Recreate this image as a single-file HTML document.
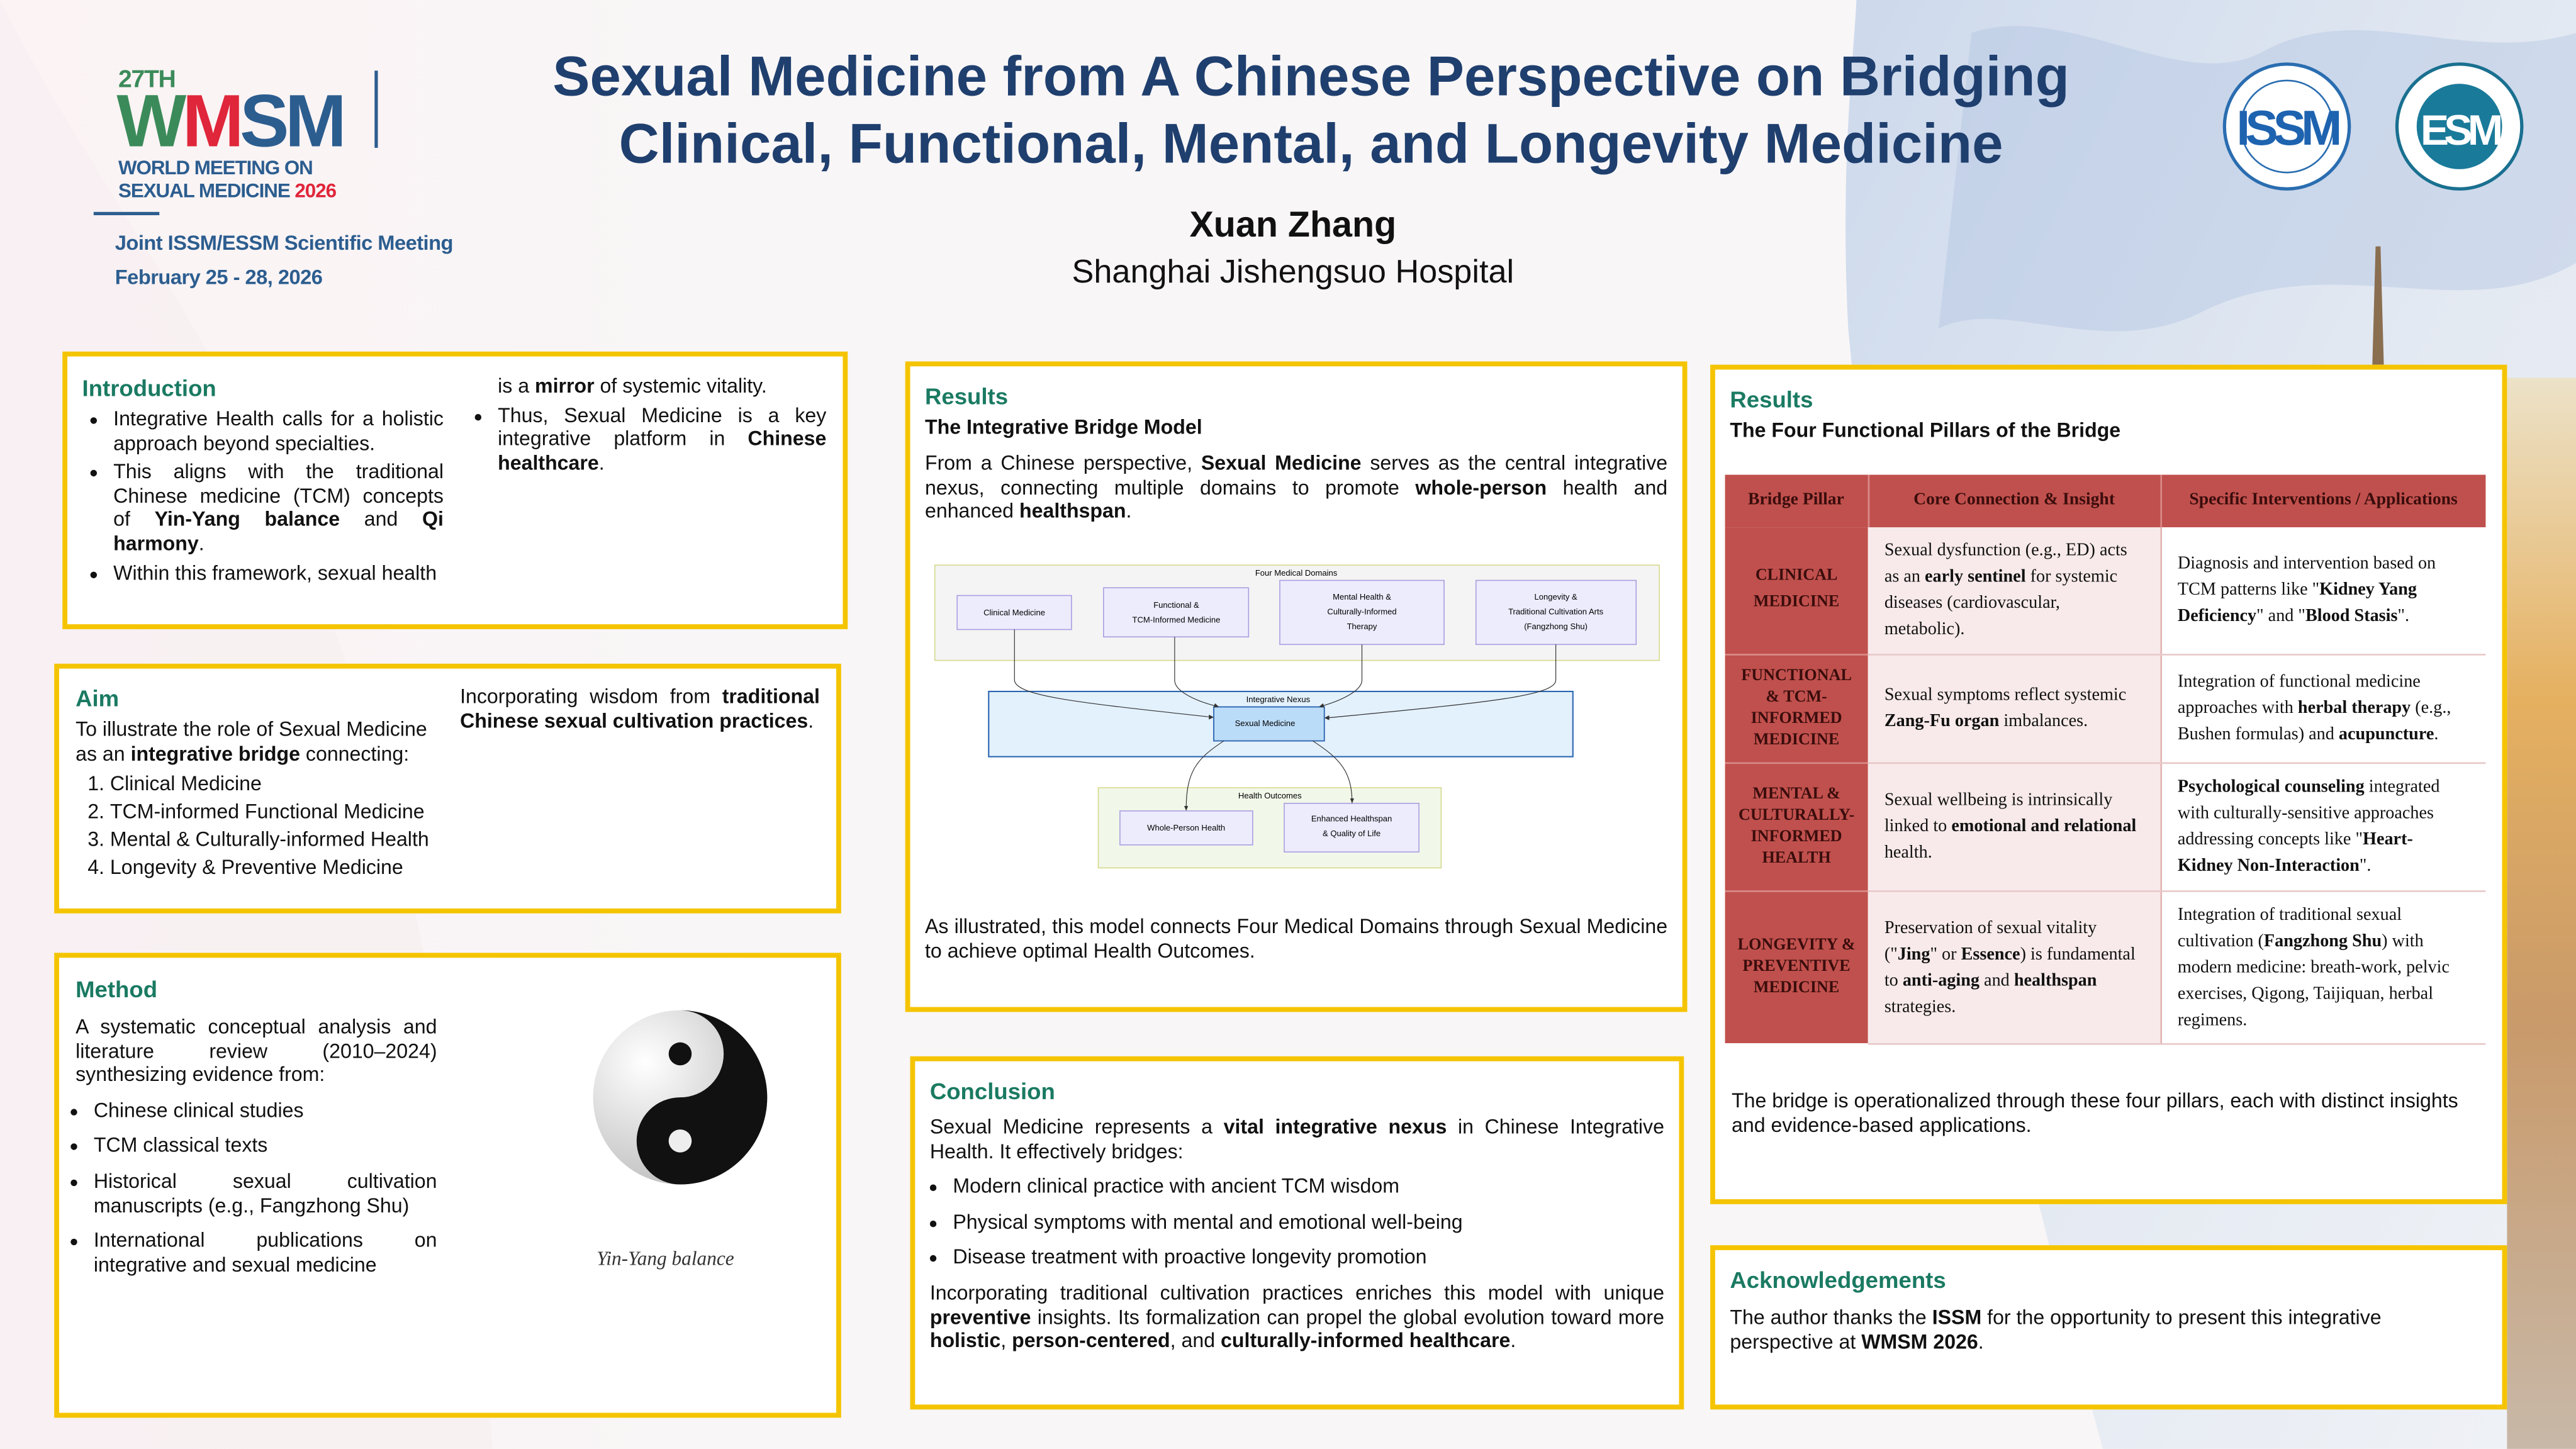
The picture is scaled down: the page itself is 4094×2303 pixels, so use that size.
<!DOCTYPE html>
<html><head><meta charset="utf-8">
<style>
html,body{margin:0;padding:0;width:4094px;height:2303px;overflow:hidden;background:#f8f6f7;}
#w{position:absolute;left:0;top:0;width:1568px;height:882px;transform:scale(2.6110);transform-origin:0 0;font-family:"Liberation Sans",Arial,sans-serif;color:#111;overflow:hidden;
background:linear-gradient(90deg,#fbf3f4 0%,#f8f6f7 30%,#f8f6f7 100%);}
.abs{position:absolute;}
.box{position:absolute;background:#fff;border:3px solid #f5c400;box-sizing:border-box;}
.h{position:absolute;color:#1a7a62;font-weight:bold;font-size:14px;}
.t{position:absolute;font-size:12.3px;line-height:14.6px;text-align:justify;}
.t p{margin:0;}
ul{margin:0;padding-left:20px;}
li{margin:0;}
ol{margin:0;padding-left:21px;}
table{border-collapse:collapse;font-family:"Liberation Serif",serif;font-size:10.8px;line-height:16px;}
td,th{box-sizing:border-box;}
th{font-size:10.6px;}
.pill{background:#c0504d;color:#3a0d0c;font-weight:bold;text-align:center;border-bottom:1px solid #d98a88;padding:0 3px;font-size:10px;}
.core{background:#f8eaea;padding:0 14px 0 10px;border-bottom:1px solid #e8c8c8;border-right:1px solid #e3b3b3;}
.app{background:#fff;padding:0 12px 0 10px;border-bottom:1px solid #e8c8c8;}
</style></head><body>
<div id="w">
<svg class="abs" style="left:0;top:0" width="1568" height="882">
<defs>
<linearGradient id="sky" x1="0" y1="0" x2="1" y2="1"><stop offset="0" stop-color="#cdd9ec"/><stop offset="0.5" stop-color="#e3e9f2"/><stop offset="1" stop-color="#f0f2f6"/></linearGradient>
<linearGradient id="city" x1="0" y1="0" x2="0" y2="1"><stop offset="0" stop-color="#ece2c8"/><stop offset="0.3" stop-color="#e5b060"/><stop offset="0.6" stop-color="#c99a6a"/><stop offset="1" stop-color="#c8b8a8"/></linearGradient>
</defs>
<path d="M1130 0 L1568 0 L1568 882 L1280 882 C1230 700 1200 560 1180 450 C1170 400 1160 420 1150 440 C1140 420 1135 300 1125 200 C1120 100 1128 40 1130 0 Z" fill="url(#sky)"/>
<path d="M1200 20 C1260 0 1330 60 1380 30 C1440 0 1500 40 1568 20 L1568 160 C1500 200 1420 150 1340 190 C1280 220 1220 180 1180 200 Z" fill="#b3c6e2" opacity="0.45"/>
<rect x="1526" y="230" width="42" height="652" fill="url(#city)"/>
<path d="M1446 150 L1449 150 L1451 222 L1444 222 Z" fill="#8a6e50"/>
<path d="M0 0 C100 200 250 300 300 882 L0 882 Z" fill="#f7eef0" opacity="0.6"/>
</svg>

<div class="abs" style="left:72px;top:40px;font-weight:bold;color:#3b8b5a;font-size:15px;letter-spacing:-0.5px;">27TH</div>
<div class="abs" style="left:71px;top:50px;font-weight:bold;font-size:45px;letter-spacing:-2.5px;line-height:48px;"><span style="color:#3b8b5a">W</span><span style="color:#e0263a">M</span><span style="color:#2c5d8f">SM</span></div>
<div class="abs" style="left:228px;top:43px;width:1.5px;height:47px;background:#2c5d8f"></div>
<div class="abs" style="left:72px;top:95px;font-weight:bold;color:#2c5d8f;font-size:12px;line-height:14px;letter-spacing:-0.4px;">WORLD MEETING ON<br>SEXUAL MEDICINE <span style="color:#e0263a">2026</span></div>
<div class="abs" style="left:57px;top:129px;width:40px;height:2px;background:#2c5d8f"></div>
<div class="abs" style="left:70px;top:141px;font-weight:bold;color:#2c5d8f;font-size:12.5px;letter-spacing:-0.2px;">Joint ISSM/ESSM Scientific Meeting</div>
<div class="abs" style="left:70px;top:162px;font-weight:bold;color:#2c5d8f;font-size:12.5px;letter-spacing:-0.2px;">February 25 - 28, 2026</div>

<div class="abs" style="left:300px;top:27px;width:996px;text-align:center;font-weight:bold;color:#1f3f6e;font-size:34px;line-height:41px;">Sexual Medicine from A Chinese Perspective on Bridging<br>Clinical, Functional, Mental, and Longevity Medicine</div>
<div class="abs" style="left:600px;top:124px;width:374px;text-align:center;font-weight:bold;font-size:22px;">Xuan Zhang</div>
<div class="abs" style="left:600px;top:155px;width:374px;text-align:center;font-size:20px;">Shanghai Jishengsuo Hospital</div>

<svg class="abs" style="left:1350px;top:36px" width="190" height="84">
<circle cx="42" cy="41" r="38" fill="#fff" stroke="#2a6db0" stroke-width="2"/>
<circle cx="42" cy="41" r="28" fill="none" stroke="#2a6db0" stroke-width="1"/>
<text x="42" y="52" text-anchor="middle" font-family="Liberation Sans" font-weight="bold" font-size="30" fill="#1e63b0" letter-spacing="-3">ISSM</text>
<circle cx="147" cy="41" r="38" fill="#fff" stroke="#1a7090" stroke-width="2"/>
<circle cx="147" cy="41" r="26" fill="#1a7a9a"/>
<text x="147" y="52" text-anchor="middle" font-family="Liberation Sans" font-weight="bold" font-size="26" fill="#fff" letter-spacing="-3">ESM</text>
</svg>

<div class="box" style="left:38px;top:214px;width:478px;height:169px;"></div>
<div class="h" style="left:50px;top:228px;">Introduction</div>
<div class="t" style="left:50px;top:248px;width:220px;"><ul style="padding-left:19px">
<li>Integrative Health calls for a holistic approach beyond specialties.</li>
<li style="margin-top:3px">This aligns with the traditional Chinese medicine (TCM) concepts of <b>Yin-Yang balance</b> and <b>Qi harmony</b>.</li>
<li style="margin-top:3px">Within this framework, sexual health</li></ul></div>
<div class="t" style="left:284px;top:228px;width:219px;"><p style="padding-left:19px">is a <b>mirror</b> of systemic vitality.</p>
<ul style="padding-left:19px;margin-top:3px"><li>Thus, Sexual Medicine is a key integrative platform in <b>Chinese healthcare</b>.</li></ul></div>

<div class="box" style="left:33px;top:404px;width:479px;height:152px;"></div>
<div class="h" style="left:46px;top:417px;">Aim</div>
<div class="t" style="left:46px;top:437px;width:220px;line-height:15.3px;text-align:left;">To illustrate the role of Sexual Medicine as an <b>integrative bridge</b> connecting:
<ol style="margin-top:2px"><li>Clinical Medicine</li><li style="margin-top:2px">TCM-informed Functional Medicine</li><li style="margin-top:2px">Mental &amp; Culturally-informed Health</li><li style="margin-top:2px">Longevity &amp; Preventive Medicine</li></ol></div>
<div class="t" style="left:280px;top:417px;width:219px;">Incorporating wisdom from <b>traditional Chinese sexual cultivation practices</b>.</div>

<div class="box" style="left:33px;top:580px;width:479px;height:283px;"></div>
<div class="h" style="left:46px;top:594px;">Method</div>
<div class="t" style="left:46px;top:618px;width:220px;">A systematic conceptual analysis and literature review (2010–2024) synthesizing evidence from:
<ul style="padding-left:11px;margin-top:7px"><li>Chinese clinical studies</li><li style="margin-top:7px">TCM classical texts</li><li style="margin-top:7px">Historical sexual cultivation manuscripts (e.g., Fangzhong Shu)</li><li style="margin-top:7px">International publications on integrative and sexual medicine</li></ul></div>
<svg class="abs" style="left:356px;top:610px" width="116" height="116" viewBox="-58 -58 116 116">
<defs><radialGradient id="yy" cx="0.3" cy="0.3" r="0.8"><stop offset="0" stop-color="#fff"/><stop offset="1" stop-color="#bbb"/></radialGradient></defs>
<circle r="53" fill="url(#yy)"/>
<path d="M0 -53 A53 53 0 0 1 0 53 A26.5 26.5 0 0 1 0 0 A26.5 26.5 0 0 0 0 -53 Z" fill="#111"/>
<circle cy="-26.5" r="7" fill="#111"/><circle cy="26.5" r="7" fill="#eee"/>
</svg>
<div class="abs" style="left:340px;top:759px;width:130px;text-align:center;font-family:'Liberation Serif',serif;font-style:italic;font-size:12px;color:#333;">Yin-Yang balance</div>

<div class="box" style="left:551px;top:220px;width:476px;height:396px;"></div>
<div class="h" style="left:563px;top:233px;">Results</div>
<div class="t" style="left:563px;top:253px;font-weight:bold;">The Integrative Bridge Model</div>
<div class="t" style="left:563px;top:275px;width:452px;">From a Chinese perspective, <b>Sexual Medicine</b> serves as the central integrative nexus, connecting multiple domains to promote <b>whole-person</b> health and enhanced <b>healthspan</b>.</div>
<svg class="abs" style="left:0;top:0;overflow:visible" width="1568" height="882" font-family="Liberation Sans" font-size="5" text-anchor="middle">
<rect x="569" y="344" width="441" height="58" fill="#f4f4f4" stroke="#d6d88a" stroke-width="0.6"/>
<text x="789" y="350.5">Four Medical Domains</text>
<g fill="#ececfd" stroke="#a99ce0" stroke-width="0.6">
<rect x="582.6" y="362.5" width="69.6" height="20.7"/>
<rect x="671.7" y="357.8" width="88.3" height="29.9"/>
<rect x="779" y="353.3" width="100" height="39"/>
<rect x="898.4" y="353.3" width="97.5" height="39"/>
</g>
<text x="617.4" y="374.5">Clinical Medicine</text>
<text x="716" y="370">Functional &amp;</text><text x="716" y="379">TCM-Informed Medicine</text>
<text x="829" y="365">Mental Health &amp;</text><text x="829" y="374">Culturally-Informed</text><text x="829" y="383">Therapy</text>
<text x="947" y="365">Longevity &amp;</text><text x="947" y="374">Traditional Cultivation Arts</text><text x="947" y="383">(Fangzhong Shu)</text>
<rect x="601.8" y="420.9" width="355.6" height="39.7" fill="#e3f1fd" stroke="#2a64b0" stroke-width="0.8"/>
<text x="778" y="427.5">Integrative Nexus</text>
<rect x="738.8" y="430.3" width="67.3" height="20.7" fill="#bbdcf8" stroke="#2a64b0" stroke-width="0.7"/>
<text x="770" y="442">Sexual Medicine</text>
<rect x="668.5" y="479.5" width="208.7" height="48.8" fill="#f1f7e9" stroke="#d6d88a" stroke-width="0.6"/>
<text x="773" y="486">Health Outcomes</text>
<g fill="#ececfd" stroke="#a99ce0" stroke-width="0.6">
<rect x="681.7" y="493.6" width="80.8" height="20.7"/>
<rect x="781.7" y="489" width="82" height="29.6"/>
</g>
<text x="722" y="505.5">Whole-Person Health</text>
<text x="822.7" y="500">Enhanced Healthspan</text><text x="822.7" y="509">&amp; Quality of Life</text>
<g fill="none" stroke="#333" stroke-width="0.45">
<path d="M617.5 383.2 V414 C618 424 660 428 737 436.5"/>
<path d="M715 387.7 V414 C715 420 725 426 741 430"/>
<path d="M829 392.3 V414 C829 420 818 426 804 430"/>
<path d="M947 392.3 V414 C947 424 900 428 808 437"/>
<path d="M745 451 C728 462 722 470 722 493"/>
<path d="M799 451 C816 462 823 470 823 489"/>
</g>
<g fill="#333">
<path d="M738.8 436.6 l-3 -1.6 l0 3 z"/>
<path d="M742 430.3 l-2.5 -2.2 l-0.8 2.6 z"/>
<path d="M802.8 430.3 l2.5 -2.2 l0.8 2.6 z"/>
<path d="M806.1 437 l3 -1.6 l0 3 z"/>
<path d="M722 493.6 l-1.2 -3 l2.4 0 z"/>
<path d="M823 489 l-1.2 -3 l2.4 0 z"/>
</g>
</svg>
<div class="t" style="left:563px;top:557px;width:452px;">As illustrated, this model connects Four Medical Domains through Sexual Medicine to achieve optimal Health Outcomes.</div>

<div class="box" style="left:554px;top:643px;width:471px;height:215px;"></div>
<div class="h" style="left:566px;top:656px;">Conclusion</div>
<div class="t" style="left:566px;top:679px;width:447px;">Sexual Medicine represents a <b>vital integrative nexus</b> in Chinese Integrative Health. It effectively bridges:
<ul style="padding-left:14px;margin-top:7px"><li>Modern clinical practice with ancient TCM wisdom</li><li style="margin-top:7px">Physical symptoms with mental and emotional well-being</li><li style="margin-top:7px">Disease treatment with proactive longevity promotion</li></ul>
<p style="margin-top:7px">Incorporating traditional cultivation practices enriches this model with unique <b>preventive</b> insights. Its formalization can propel the global evolution toward more <b>holistic</b>, <b>person-centered</b>, and <b>culturally-informed healthcare</b>.</p></div>

<div class="box" style="left:1041px;top:222px;width:485px;height:511px;"></div>
<div class="h" style="left:1053px;top:235px;">Results</div>
<div class="t" style="left:1053px;top:255px;font-weight:bold;">The Four Functional Pillars of the Bridge</div>
<table class="abs" style="left:1050px;top:289px;width:463px;">
<colgroup><col style="width:87px"><col style="width:178px"><col style="width:198px"></colgroup>
<tr style="height:32px;background:#c0504d;color:#3a0d0c;"><th style="border-right:1px solid #d98a88">Bridge Pillar</th><th style="border-right:1px solid #d98a88">Core Connection &amp; Insight</th><th>Specific Interventions / Applications</th></tr>
<tr style="height:77px"><td class="pill">CLINICAL<br>MEDICINE</td><td class="core">Sexual dysfunction (e.g., ED) acts as an <b>early sentinel</b> for systemic diseases (cardiovascular, metabolic).</td><td class="app">Diagnosis and intervention based on TCM patterns like "<b>Kidney Yang Deficiency</b>" and "<b>Blood Stasis</b>".</td></tr>
<tr style="height:66px"><td class="pill" style="line-height:13px">FUNCTIONAL<br>&amp; TCM-<br>INFORMED<br>MEDICINE</td><td class="core">Sexual symptoms reflect systemic <b>Zang-Fu organ</b> imbalances.</td><td class="app">Integration of functional medicine approaches with <b>herbal therapy</b> (e.g., Bushen formulas) and <b>acupuncture</b>.</td></tr>
<tr style="height:78px"><td class="pill" style="line-height:13px">MENTAL &amp;<br>CULTURALLY-<br>INFORMED<br>HEALTH</td><td class="core">Sexual wellbeing is intrinsically linked to <b>emotional and relational</b> health.</td><td class="app"><b>Psychological counseling</b> integrated with culturally-sensitive approaches addressing concepts like "<b>Heart-Kidney Non-Interaction</b>".</td></tr>
<tr style="height:93px"><td class="pill" style="line-height:13px;border-bottom:none">LONGEVITY &amp;<br>PREVENTIVE<br>MEDICINE</td><td class="core">Preservation of sexual vitality ("<b>Jing</b>" or <b>Essence</b>) is fundamental to <b>anti-aging</b> and <b>healthspan</b> strategies.</td><td class="app">Integration of traditional sexual cultivation (<b>Fangzhong Shu</b>) with modern medicine: breath-work, pelvic exercises, Qigong, Taijiquan, herbal regimens.</td></tr>
</table>
<div class="t" style="left:1054px;top:663px;width:460px;text-align:left;">The bridge is operationalized through these four pillars, each with distinct insights and evidence-based applications.</div>

<div class="box" style="left:1041px;top:758px;width:485px;height:100px;"></div>
<div class="h" style="left:1053px;top:771px;">Acknowledgements</div>
<div class="t" style="left:1053px;top:795px;width:420px;text-align:left;">The author thanks the <b>ISSM</b> for the opportunity to present this integrative perspective at <b>WMSM 2026</b>.</div>
</div>
</body></html>
